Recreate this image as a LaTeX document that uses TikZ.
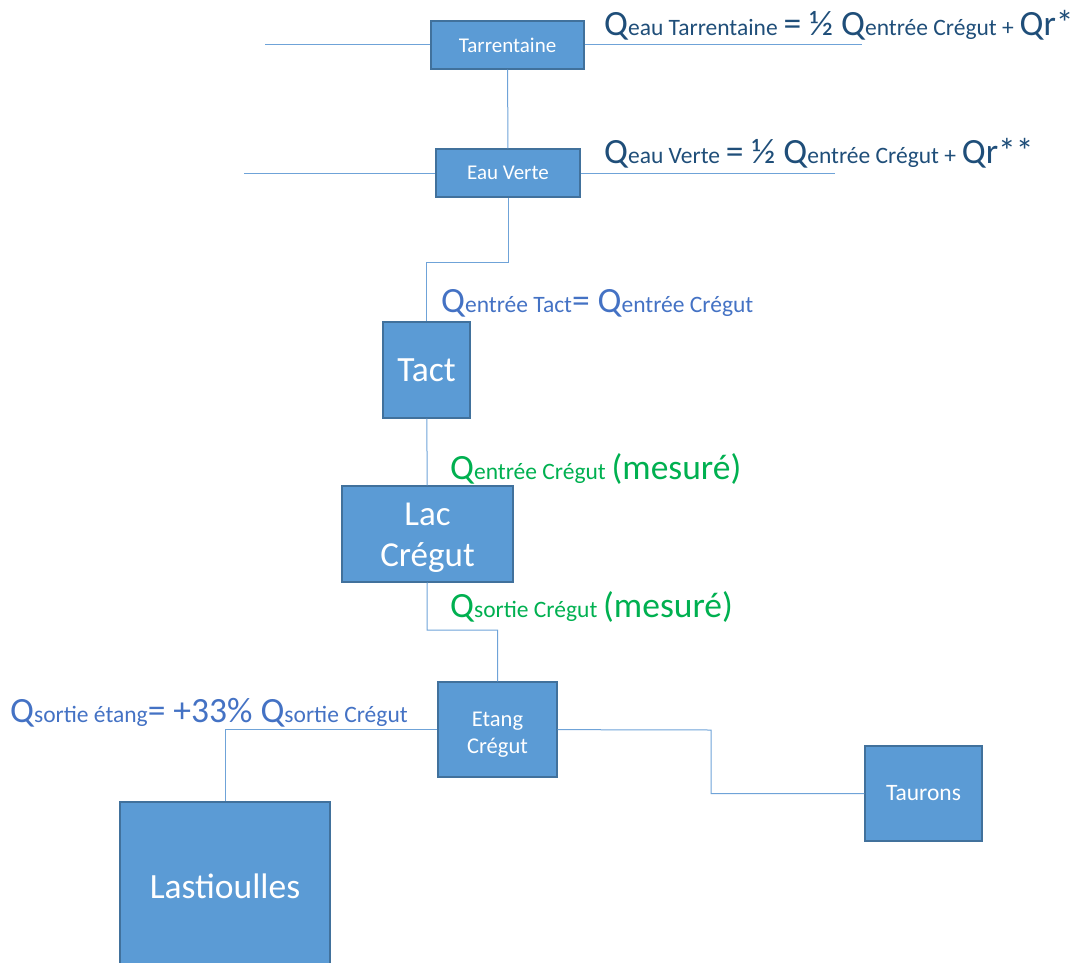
\documentclass[tikz,border=0pt]{standalone}
\usepackage{fontspec}
\setmainfont{Carlito}
\usetikzlibrary{positioning,calc}
\definecolor{boxfill}{HTML}{5B9BD5}
\definecolor{boxline}{HTML}{41719C}
\definecolor{linkblue}{HTML}{6FA3D8}
\definecolor{darkq}{HTML}{1F4E79}
\definecolor{blueq}{HTML}{4472C4}
\definecolor{greenq}{HTML}{00B050}
\tikzstyle{block} = [draw=boxline, fill=boxfill, rectangle, line width=1.3pt, text=white, align=center, inner sep=0pt]
\tikzstyle{link} = [draw=linkblue, line width=1pt]
\tikzstyle{flow} = [anchor=base west, inner sep=0pt, font=\fontsize{26}{32}\selectfont]
\newcommand{\qbig}[1]{{\fontsize{35.5}{42}\selectfont #1}}
\newcommand{\qsmall}[1]{{\fontsize{23.5}{28}\selectfont #1}}

\begin{document}
\begin{tikzpicture}[x=1pt, y=-1pt]
  \useasboundingbox (0,0) rectangle (1073,963);
  \clip (0,0) rectangle (1073,963);
  % Nodes
  \node [block, minimum width=153pt, minimum height=48pt, font=\fontsize{21}{25}\selectfont] (tar) at (507.5,45) {Tarrentaine};
  \node [block, minimum width=144pt, minimum height=48pt, font=\fontsize{21}{25}\selectfont] (ev) at (508,173) {Eau Verte};
  \node [block, minimum width=87pt, minimum height=96pt, font=\fontsize{35.5}{42}\selectfont] (tact) at (426.5,370) {Tact};
  \node [block, minimum width=171pt, minimum height=96pt, font=\fontsize{35}{41}\selectfont] (lac) at (427.5,534) {\rule{0pt}{31pt}Lac\\Crégut};
  \node [block, minimum width=119pt, minimum height=95pt, font=\fontsize{22.5}{27}\selectfont] (etang) at (497.5,729.5) {\rule{0pt}{24pt}Etang\\Crégut};
  \node [block, minimum width=117pt, minimum height=95pt, font=\fontsize{23.5}{28}\selectfont] (taur) at (923.5,793.5) {Taurons};
  \node [block, minimum width=210pt, minimum height=168pt, font=\fontsize{35.5}{42}\selectfont] (last) at (225,886) {Lastioulles};

  % Path
  \coordinate (tarw) at (265,45);
  \coordinate (tare) at (862,45);
  \coordinate (evw) at (244,173);
  \coordinate (eve) at (835,173);
  \coordinate (k1) at (508,262);
  \coordinate (k2) at (427,630);
  \coordinate (k3) at (711,730);
  \draw [link] (tarw) -- (tar);
  \draw [link] (tar) -- (tare);
  \draw [link] (tar) -- (ev);
  \draw [link] (evw) -- (ev);
  \draw [link] (ev) -- (eve);
  \draw [link] (ev) -- (k1) -| (tact);
  \draw [link] (tact) -- (lac);
  \draw [link] (lac) -- (k2) -| (etang);
  \draw [link] (etang) -| (last);
  \draw [link] (etang) -- (k3) |- (taur);

  % Annotations
  \node [flow, text=darkq] (qtar) at (604,36) {\qbig{Q}\qsmall{eau Tarrentaine} \qbig{= ½ Q}\qsmall{entrée Crégut +} \qbig{Qr*}};
  \node [flow, text=darkq] (qev) at (604,163) {\qbig{Q}\qsmall{eau Verte} \qbig{= ½ Q}\qsmall{entrée Crégut +} \qbig{Qr**}};
  \node [flow, text=blueq] (qtact) at (441,312) {\qbig{Q}\qsmall{entrée Tact}\qbig{= Q}\qsmall{entrée Crégut}};
  \node [flow, text=greenq] (qin) at (450,479) {\qbig{Q}\qsmall{entrée Crégut} \qbig{(mesuré)}};
  \node [flow, text=greenq] (qout) at (450,617) {\qbig{Q}\qsmall{sortie Crégut} \qbig{(mesuré)}};
  \node [flow, text=blueq] (qet) at (10,722) {\qbig{Q}\qsmall{sortie étang}\qbig{= +33\% Q}\qsmall{sortie Crégut}};
\end{tikzpicture}
\end{document}
